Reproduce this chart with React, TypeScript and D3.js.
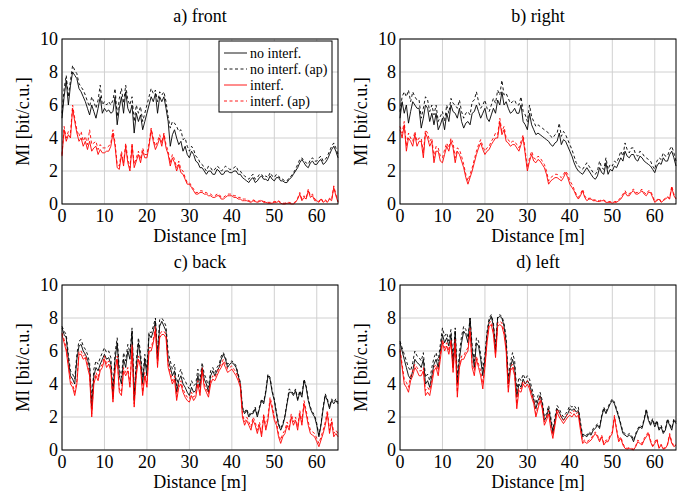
import React from 'react';
import * as d3 from 'd3';

// sampling step along the route [m]
const STEP = 0.5;
const xTicks = [0, 10, 20, 30, 40, 50, 60];
const yTicks = [0, 2, 4, 6, 8, 10];

// a) front
const frontNo = [
  5.2, 6.5, 7.5, 6.0, 7.2, 8.0, 7.8, 7.6, 7.0, 6.8,
  6.5, 6.2, 5.8, 5.4, 6.0, 5.6, 5.2, 5.8, 6.5, 5.5,
  5.8, 5.6, 5.7, 5.5, 5.6, 6.5, 4.8, 5.8, 6.5, 5.5,
  6.8, 5.8, 5.5, 6.0, 4.3, 5.5, 5.0, 5.4, 4.5, 5.0,
  5.5, 6.0, 6.5, 6.2, 6.7, 5.5, 6.5, 6.2, 6.5, 5.8,
  5.0, 3.5, 4.2, 4.5, 4.0, 3.6, 3.8, 3.2, 3.5, 3.0,
  2.8, 3.2, 3.0, 2.6, 2.5, 2.2, 2.2, 2.0, 1.8, 2.0,
  2.0, 1.8, 1.8, 2.1, 2.0, 1.8, 1.8, 2.0, 2.0, 1.9,
  1.9, 2.0, 2.0, 1.8, 1.8, 1.6, 1.5, 1.4, 1.3, 1.5,
  1.6, 1.3, 1.4, 1.6, 1.7, 1.5, 1.5, 1.4, 1.7, 1.5,
  1.4, 1.6, 1.6, 1.4, 1.4, 1.3, 1.3, 1.5, 1.6, 1.8,
  2.0, 2.2, 2.5, 2.7, 2.5, 2.3, 2.2, 2.5, 2.6, 2.4,
  2.4, 2.6, 2.7, 2.4, 2.5, 2.7, 3.0, 3.3, 3.5, 3.2,
  2.8,
];
const frontNoAp = [
  5.5, 7.0, 7.8, 6.5, 7.5, 8.4, 8.1, 7.9, 7.3, 7.1,
  6.9, 6.6, 6.2, 5.9, 6.5, 6.2, 5.8, 6.3, 7.2, 6.0,
  6.2, 6.0, 6.2, 6.0, 6.3, 7.0, 5.3, 6.4, 7.0, 6.1,
  7.2, 6.3, 6.0, 6.5, 5.0, 6.0, 5.5, 5.9, 5.0, 5.5,
  6.0, 6.5, 7.0, 6.7, 6.9, 6.2, 6.8, 6.6, 6.8, 6.2,
  5.3, 4.6, 5.0, 4.9, 4.7, 4.4, 4.5, 3.9, 4.0, 3.5,
  3.2, 3.5, 3.3, 2.9, 2.8, 2.5, 2.4, 2.2, 2.0, 2.3,
  2.2, 2.0, 2.1, 2.3, 2.2, 2.0, 2.1, 2.3, 2.2, 2.1,
  2.1, 2.2, 2.3, 2.0, 2.0, 1.8, 1.7, 1.6, 1.5, 1.7,
  1.8, 1.5, 1.6, 1.8, 1.8, 1.6, 1.7, 1.6, 1.9, 1.7,
  1.6, 1.8, 1.7, 1.5, 1.5, 1.4, 1.4, 1.6, 1.7, 1.9,
  2.1, 2.4, 2.7, 2.8, 2.6, 2.5, 2.4, 2.7, 2.8, 2.6,
  2.6, 2.8, 2.9, 2.6, 2.7, 2.9, 3.2, 3.5, 3.7, 3.4,
  3.0,
];
const frontInt = [
  2.9, 4.5, 3.8, 4.2, 4.0, 5.8, 5.0, 4.3, 3.8, 4.0,
  3.5, 3.8, 3.3, 3.8, 3.2, 3.4, 3.5, 3.0, 3.3, 3.1,
  3.1, 3.2, 3.2, 3.5, 4.3, 3.5, 2.2, 2.1, 3.0, 2.3,
  3.5, 2.5, 2.0, 3.5, 2.2, 2.6, 3.0, 2.5, 3.2, 2.8,
  2.8, 3.5, 4.5, 3.8, 3.3, 3.6, 4.0, 3.5, 4.2, 3.4,
  3.0, 2.3, 2.8, 2.5, 2.0, 2.4, 1.9, 1.8, 1.5, 1.2,
  1.2, 1.0, 0.8, 0.6, 0.6, 0.7, 0.7, 0.6, 0.6, 0.5,
  0.5, 0.4, 0.4, 0.5, 0.5, 0.3, 0.3, 0.4, 0.5, 0.5,
  0.5, 0.4, 0.4, 0.3, 0.3, 0.2, 0.2, 0.2, 0.15, 0.1,
  0.2, 0.15, 0.1, 0.15, 0.2, 0.1, 0.1, 0.05, 0.05, 0.05,
  0.1, 0.1, 0.15, 0.05, 0.0, 0.0, 0.05, 0.05, 0.0, 0.0,
  0.1, 0.3, 0.6, 0.2, 0.4, 0.3, 0.8, 0.4, 0.5, 0.2,
  0.2, 0.1, 0.3, 0.1, 0.2, 0.1, 0.3, 0.2, 1.0, 0.5,
  0.1,
];
const frontIntAp = [
  3.0, 4.7, 4.0, 4.4, 4.3, 6.0, 5.2, 4.5, 4.1, 4.4,
  3.8, 4.1, 3.6, 4.5, 3.6, 3.7, 3.8, 3.3, 3.6, 3.4,
  3.4, 3.4, 3.5, 3.7, 4.5, 3.7, 2.4, 2.3, 3.2, 2.5,
  3.7, 2.7, 2.2, 3.7, 2.4, 2.8, 3.2, 2.7, 3.4, 3.0,
  3.0, 3.7, 4.6, 4.0, 3.5, 3.8, 4.2, 3.7, 4.3, 3.6,
  3.2, 2.5, 3.0, 2.7, 2.2, 2.6, 2.1, 2.0, 1.6, 1.3,
  1.3, 1.1, 0.9, 0.7, 0.7, 0.8, 0.8, 0.7, 0.7, 0.6,
  0.6, 0.5, 0.5, 0.6, 0.6, 0.4, 0.4, 0.5, 0.6, 0.6,
  0.6, 0.5, 0.5, 0.4, 0.4, 0.3, 0.3, 0.3, 0.2, 0.15,
  0.25, 0.2, 0.15, 0.2, 0.25, 0.15, 0.15, 0.1, 0.1, 0.1,
  0.15, 0.15, 0.2, 0.1, 0.05, 0.05, 0.1, 0.1, 0.05, 0.05,
  0.15, 0.35, 0.7, 0.3, 0.5, 0.35, 0.9, 0.5, 0.6, 0.3,
  0.25, 0.15, 0.35, 0.15, 0.25, 0.15, 0.35, 0.25, 1.1, 0.6,
  0.15,
];

// b) right
const rightNo = [
  5.2, 6.2, 5.5, 6.0, 4.9, 5.6, 6.2, 6.0, 5.8, 5.8,
  4.6, 5.2, 6.0, 5.8, 5.0, 5.5, 4.8, 5.5, 4.5, 4.8,
  5.2, 4.5, 5.5, 5.0, 6.0, 5.6, 5.5, 5.2, 5.8, 5.0,
  4.6, 4.9, 5.0, 4.8, 5.5, 5.6, 6.0, 5.6, 5.2, 5.5,
  5.8, 5.2, 5.0, 5.4, 5.8, 5.5, 6.3, 6.0, 6.8, 6.0,
  6.2, 5.8, 5.5, 5.6, 5.8, 5.5, 5.5, 6.0, 5.0, 4.8,
  4.5, 5.5, 4.8, 4.5, 4.2, 4.3, 4.2, 4.1, 4.0, 3.9,
  3.8, 3.6, 3.5, 3.7, 3.8, 4.3, 3.6, 3.9, 3.8, 3.5,
  3.2, 2.9, 2.5, 2.2, 2.0, 1.9, 1.8, 2.0, 2.2, 2.0,
  1.8, 1.6, 1.5, 1.7, 2.2, 1.9, 1.8, 2.5, 1.8, 2.1,
  2.0, 2.3, 2.2, 2.5, 2.8, 2.6, 3.2, 2.9, 2.8, 3.0,
  3.0, 2.7, 2.6, 2.9, 2.8, 2.6, 2.5, 2.4, 2.3, 2.1,
  1.9, 2.3, 2.5, 2.4, 2.8, 2.6, 2.6, 3.0, 3.2, 2.8,
  2.3,
];
const rightNoAp = [
  5.6, 6.5, 6.8, 6.5, 6.9, 6.2, 6.8, 6.5, 6.3, 6.3,
  5.2, 5.8, 6.5, 6.3, 5.6, 6.0, 5.4, 6.0, 5.0, 5.3,
  5.6, 5.0, 6.0, 5.5, 6.4, 6.1, 6.0, 5.8, 6.3, 5.6,
  5.2, 5.5, 5.6, 5.4, 6.2, 6.3, 6.8, 6.2, 5.8, 6.0,
  6.3, 5.8, 5.6, 6.0, 6.4, 6.1, 6.9, 6.6, 7.5, 6.6,
  6.7, 6.4, 6.1, 6.2, 6.3, 6.0, 6.0, 6.5, 5.6, 5.4,
  5.0, 6.0, 5.3, 5.0, 4.7, 4.8, 4.7, 4.6, 4.5, 4.4,
  4.3, 4.1, 4.0, 4.2, 4.3, 4.9, 4.1, 4.4, 4.2, 3.9,
  3.6, 3.3, 2.9, 2.5, 2.3, 2.2, 2.1, 2.3, 2.5, 2.3,
  2.1, 1.9, 1.8, 2.0, 2.6, 2.2, 2.1, 2.8, 2.1, 2.4,
  2.3, 2.6, 2.5, 2.8, 3.2, 2.9, 3.7, 3.3, 3.1, 3.4,
  3.4, 3.0, 2.9, 3.2, 3.1, 2.9, 2.8, 2.7, 2.6, 2.3,
  2.1, 2.6, 2.8, 2.7, 3.1, 2.9, 2.9, 3.3, 3.5, 3.1,
  2.6,
];
const rightInt = [
  4.5, 4.0, 4.8, 3.2, 4.0, 3.8, 3.5, 4.2, 3.5, 3.8,
  3.8, 2.8, 4.3, 4.0, 3.5, 3.8, 2.5, 3.2, 3.2, 2.6,
  2.5, 3.0, 3.5, 3.2, 3.8, 3.4, 2.5, 3.2, 3.0, 2.6,
  2.2, 1.6, 1.2, 1.6, 2.0, 2.5, 3.0, 3.4, 3.7, 3.3,
  3.0, 3.2, 3.3, 3.6, 3.8, 4.0, 4.0, 5.0, 4.2, 4.5,
  3.8, 3.7, 3.5, 3.6, 3.6, 3.4, 3.2, 3.6, 4.0, 3.0,
  2.0, 2.6, 3.0, 2.6, 2.5, 2.7, 2.6, 2.4, 2.2, 1.8,
  1.2, 1.4, 1.5, 1.6, 1.6, 1.5, 1.4, 1.6, 1.9, 1.6,
  1.2, 1.0, 0.8, 0.5, 0.3, 0.5, 0.8, 0.4, 0.2, 0.3,
  0.3, 0.2, 0.2, 0.15, 0.15, 0.2, 0.2, 0.1, 0.1, 0.1,
  0.05, 0.1, 0.1, 0.2, 0.3, 0.5, 0.7, 0.5, 0.5, 0.7,
  0.8, 0.6, 0.6, 0.7, 0.8, 0.6, 0.5, 0.7, 0.7, 0.4,
  0.1, 0.2, 0.3, 0.1, 0.2, 0.3, 0.4, 0.3, 1.0, 0.5,
  0.3,
];
const rightIntAp = [
  4.7, 4.3, 5.0, 3.5, 4.3, 4.0, 3.8, 4.4, 3.8, 4.0,
  4.0, 3.1, 4.5, 4.3, 3.8, 4.0, 2.8, 3.5, 3.4, 2.9,
  2.8, 3.3, 3.7, 3.4, 4.0, 3.7, 2.8, 3.4, 3.3, 2.9,
  2.4, 1.8, 1.4, 1.8, 2.2, 2.7, 3.2, 3.6, 3.9, 3.5,
  3.2, 3.4, 3.5, 3.8, 4.0, 4.3, 4.2, 5.2, 4.4, 4.7,
  4.0, 3.9, 3.7, 3.8, 3.8, 3.6, 3.4, 3.8, 4.2, 3.2,
  2.2, 2.8, 3.2, 2.8, 2.7, 2.9, 2.8, 2.6, 2.4, 2.0,
  1.4, 1.6, 1.7, 1.8, 1.8, 1.7, 1.6, 1.8, 2.0, 1.8,
  1.4, 1.2, 0.9, 0.6, 0.4, 0.6, 0.9, 0.5, 0.3, 0.35,
  0.35, 0.25, 0.25, 0.2, 0.2, 0.25, 0.25, 0.15, 0.15, 0.15,
  0.1, 0.15, 0.15, 0.25, 0.4, 0.6, 0.8, 0.6, 0.6, 0.8,
  0.9, 0.7, 0.7, 0.8, 0.9, 0.7, 0.6, 0.8, 0.8, 0.5,
  0.15, 0.25, 0.35, 0.15, 0.25, 0.35, 0.45, 0.35, 1.1, 0.6,
  0.35,
];

// c) back
const backNo = [
  7.4, 7.0, 6.8, 5.5, 4.5, 4.3, 4.0, 5.5, 6.3, 6.4,
  6.0, 5.8, 5.5, 5.0, 2.5, 4.5, 5.0, 4.8, 5.2, 5.5,
  5.8, 5.5, 5.6, 5.2, 3.2, 5.5, 6.5, 4.5, 4.0, 5.5,
  5.0, 6.0, 5.5, 7.2, 3.0, 5.0, 6.5, 5.5, 4.0, 5.5,
  4.5, 7.0, 6.8, 7.2, 7.8, 5.5, 7.5, 7.8, 7.5, 7.2,
  5.5, 5.0, 4.5, 4.8, 3.5, 4.2, 4.5, 4.0, 3.8, 3.5,
  3.3, 3.8, 3.5, 3.6, 4.5, 3.8, 5.0, 4.3, 4.0, 3.5,
  4.5, 4.8, 4.5, 4.8, 5.0, 5.5, 5.8, 5.5, 5.0, 5.2,
  5.3, 5.2, 5.0, 4.5, 4.0, 2.5, 2.2, 2.4, 2.0, 2.2,
  2.2, 2.5, 2.0, 2.5, 3.0, 2.8, 3.5, 4.5, 4.3, 3.5,
  3.0, 2.2, 1.5, 1.2, 1.5, 2.0, 2.8, 3.5, 3.5, 3.3,
  3.6, 3.0, 3.5, 3.2, 4.2, 3.8, 3.0, 2.5, 2.2, 2.0,
  1.5, 0.8, 1.5, 2.5, 3.3, 3.0, 2.5, 3.0, 2.8, 3.0,
  2.8,
];
const backNoAp = [
  7.5, 7.2, 7.0, 5.8, 4.8, 4.6, 4.3, 5.8, 6.6, 6.7,
  6.3, 6.1, 5.8, 5.3, 2.9, 4.9, 5.4, 5.2, 5.6, 5.9,
  6.2, 5.9, 6.0, 5.6, 3.6, 5.9, 6.8, 4.9, 4.4, 5.9,
  5.4, 6.4, 5.9, 7.4, 3.4, 5.4, 6.8, 5.9, 4.4, 5.8,
  4.9, 7.2, 7.1, 7.5, 8.0, 5.9, 7.9, 8.0, 7.8, 7.5,
  5.9, 5.4, 4.9, 5.2, 3.9, 4.6, 4.9, 4.4, 4.2, 3.9,
  3.7, 4.2, 3.9, 4.0, 4.9, 4.2, 5.3, 4.6, 4.3, 3.8,
  4.8, 5.0, 4.7, 5.0, 5.2, 5.7, 5.9, 5.6, 5.2, 5.3,
  5.4, 5.3, 5.1, 4.6, 4.1, 2.6, 2.3, 2.5, 2.1, 2.3,
  2.3, 2.6, 2.1, 2.6, 3.1, 2.9, 3.6, 4.6, 4.4, 3.6,
  3.1, 2.3, 1.6, 1.3, 1.6, 2.1, 2.9, 3.7, 3.6, 3.4,
  3.7, 3.1, 3.6, 3.3, 4.3, 3.9, 3.1, 2.6, 2.3, 2.1,
  1.6, 0.9, 1.6, 2.6, 3.4, 3.1, 2.6, 3.1, 2.9, 3.1,
  2.9,
];
const backInt = [
  7.0, 6.5, 6.0, 5.0, 4.0, 3.8, 3.3, 4.0, 5.8, 5.8,
  5.5, 5.6, 5.0, 4.5, 2.0, 4.0, 4.5, 4.2, 4.8, 5.0,
  5.5, 5.0, 5.2, 4.8, 2.9, 4.8, 5.5, 3.5, 3.3, 4.8,
  4.5, 4.8, 3.8, 6.2, 2.6, 4.5, 5.5, 5.0, 3.3, 4.5,
  3.8, 6.0, 6.0, 6.5, 7.3, 5.0, 6.8, 7.0, 7.0, 6.8,
  5.0, 4.5, 4.0, 4.3, 3.0, 3.8, 4.0, 3.5, 3.2, 3.0,
  2.9, 3.3, 3.0, 3.2, 4.0, 3.3, 4.8, 3.8, 3.5, 3.2,
  4.0, 4.3, 4.2, 4.5, 4.8, 5.0, 5.3, 5.0, 4.7, 4.8,
  4.9, 4.7, 4.5, 4.2, 3.8, 2.0, 1.5, 1.8, 1.5, 1.2,
  1.8, 1.5, 1.0, 1.5, 0.8, 2.0, 1.2, 1.8, 3.0, 2.5,
  1.8, 1.5, 0.8, 0.4, 0.8, 1.0, 1.5, 1.2, 2.0, 1.5,
  1.8, 1.2, 2.2, 1.5, 2.8, 2.2, 1.5, 1.0, 0.9, 0.8,
  0.5, 0.2, 0.6, 1.0, 1.5, 2.2, 1.0, 1.7, 0.8, 1.0,
  0.8,
];
const backIntAp = [
  7.1, 6.7, 6.2, 5.2, 4.2, 4.0, 3.5, 4.2, 6.0, 6.0,
  5.7, 5.8, 5.2, 4.7, 2.2, 4.2, 4.7, 4.4, 5.0, 5.2,
  5.7, 5.2, 5.4, 5.0, 3.1, 5.0, 5.7, 3.7, 3.5, 5.0,
  4.7, 5.0, 4.0, 6.4, 2.8, 4.7, 5.7, 5.2, 3.5, 4.7,
  4.0, 6.2, 6.2, 6.7, 7.5, 5.2, 7.0, 7.2, 7.2, 7.0,
  5.2, 4.7, 4.2, 4.5, 3.2, 4.0, 4.2, 3.7, 3.4, 3.2,
  3.1, 3.5, 3.2, 3.4, 4.2, 3.5, 5.0, 4.0, 3.7, 3.4,
  4.2, 4.5, 4.4, 4.7, 5.0, 5.2, 5.5, 5.2, 4.9, 5.0,
  5.1, 4.9, 4.7, 4.4, 4.0, 2.2, 1.7, 2.0, 1.7, 1.4,
  2.0, 1.7, 1.2, 1.7, 1.0, 2.2, 1.4, 2.0, 3.2, 2.7,
  2.0, 1.7, 1.0, 0.6, 1.0, 1.2, 1.7, 1.4, 2.2, 1.7,
  2.0, 1.4, 2.4, 1.7, 3.0, 2.4, 1.7, 1.2, 1.1, 1.0,
  0.7, 0.4, 0.8, 1.2, 1.7, 2.4, 1.2, 1.9, 1.0, 1.2,
  1.0,
];

// d) left
const leftNo = [
  6.5, 6.0, 5.5, 5.0, 4.5, 4.3, 4.8, 5.5, 5.3, 5.2,
  5.0, 5.5, 4.0, 4.2, 3.8, 4.5, 5.2, 5.5, 5.0, 6.0,
  7.0, 6.5, 6.8, 6.3, 7.0, 5.0, 7.2, 4.0, 5.5, 6.5,
  7.2, 7.0, 6.5, 8.0, 6.0, 5.0, 6.5, 6.3, 5.5, 4.5,
  5.5, 7.0, 7.8, 8.1, 7.5, 6.0, 8.0, 8.1, 8.0, 7.5,
  6.5, 4.0, 5.0, 5.5, 5.0, 3.2, 4.0, 3.8, 4.3, 4.0,
  4.2, 4.0, 3.5, 3.0, 2.5, 3.0, 3.3, 2.8, 1.8, 2.0,
  2.5, 1.8, 1.0, 1.8, 2.5, 2.3, 2.0, 1.8, 2.0, 2.2,
  2.5, 2.4, 2.5, 2.3, 2.4, 1.5, 0.8, 0.9, 0.8, 1.0,
  0.9, 1.2, 1.3, 1.5, 1.3, 2.0, 2.5, 2.2, 2.5, 2.8,
  3.0, 2.8, 2.4, 2.0, 1.5, 1.0, 0.9, 0.8, 0.9, 0.8,
  0.5, 0.9, 1.2, 1.4, 1.3, 1.8, 2.4, 1.8, 1.5, 1.8,
  1.4, 1.7, 1.2, 1.4, 1.0, 1.2, 1.8, 1.5, 1.2, 1.8,
  1.6,
];
const leftNoAp = [
  6.6, 6.2, 5.8, 5.4, 5.0, 4.8, 5.3, 6.0, 5.7, 5.6,
  5.4, 5.9, 4.4, 4.6, 4.2, 5.0, 5.6, 5.9, 5.4, 6.4,
  7.4, 6.9, 7.1, 6.6, 7.3, 5.4, 7.4, 4.4, 5.9, 6.9,
  7.5, 7.3, 6.8, 8.0, 6.3, 5.4, 6.8, 6.6, 5.8, 4.9,
  5.8, 7.2, 8.0, 8.2, 7.7, 6.3, 8.1, 8.2, 8.1, 7.7,
  6.8, 4.4, 5.3, 5.9, 5.4, 3.6, 4.4, 4.2, 4.6, 4.3,
  4.5, 4.3, 3.8, 3.3, 2.8, 3.3, 3.5, 3.0, 2.0, 2.2,
  2.7, 2.0, 1.2, 2.0, 2.7, 2.5, 2.2, 2.0, 2.2, 2.4,
  2.7, 2.6, 2.7, 2.5, 2.6, 1.7, 0.9, 1.0, 0.9, 1.1,
  1.0, 1.3, 1.4, 1.6, 1.4, 2.1, 2.6, 2.3, 2.6, 2.9,
  3.1, 2.9, 2.5, 2.1, 1.6, 1.1, 1.0, 0.9, 1.0, 0.9,
  0.6, 1.0, 1.3, 1.5, 1.4, 1.9, 2.5, 1.9, 1.6, 1.9,
  1.5, 1.8, 1.3, 1.5, 1.1, 1.3, 1.9, 1.6, 1.3, 1.9,
  1.7,
];
const leftInt = [
  6.0, 5.0, 4.0, 3.8, 3.5, 4.2, 4.5, 5.0, 4.8, 4.5,
  4.5, 4.8, 3.3, 3.5, 3.3, 4.0, 4.8, 5.0, 4.5, 5.5,
  6.5, 6.0, 6.3, 5.8, 6.5, 4.7, 6.5, 3.2, 5.0, 5.5,
  5.5, 5.8, 6.0, 7.2, 5.0, 4.5, 5.5, 5.0, 4.5, 3.7,
  5.0, 6.5, 7.5, 7.6, 7.0, 5.6, 7.5, 7.6, 7.5, 7.0,
  6.0, 3.5, 4.8, 5.0, 4.5, 2.5, 3.6, 3.5, 4.0, 3.8,
  4.0, 3.7, 3.2, 2.8, 2.0, 2.5, 3.0, 2.5, 1.5, 1.8,
  2.2, 1.3, 0.7, 1.5, 2.3, 2.0, 1.8, 1.6, 1.8, 2.0,
  2.1, 2.0, 2.2, 2.0, 2.1, 1.2, 0.4, 0.5, 0.4, 0.5,
  0.6, 0.8, 1.0, 0.8, 0.5, 0.8, 0.3, 0.5, 0.5, 0.8,
  1.0, 2.0, 1.2, 0.5, 0.7, 0.3, 0.1, 0.05, 0.1, 0.05,
  0.0, 0.2, 0.5, 0.4, 0.3, 0.6, 0.8, 1.0, 0.5, 0.2,
  0.4, 0.6, 0.1, 0.3, 0.05, 0.1, 0.3, 0.9, 0.4, 0.2,
  0.3,
];
const leftIntAp = [
  6.1, 5.2, 4.3, 4.1, 3.8, 4.5, 4.8, 5.2, 5.0, 4.8,
  4.8, 5.0, 3.6, 3.8, 3.6, 4.3, 5.0, 5.2, 4.8, 5.8,
  6.7, 6.2, 6.5, 6.0, 6.7, 5.0, 6.7, 3.5, 5.2, 5.7,
  5.7, 6.0, 6.2, 7.4, 5.2, 4.8, 5.7, 5.2, 4.8, 4.0,
  5.2, 6.7, 7.7, 7.8, 7.2, 5.8, 7.7, 7.8, 7.7, 7.2,
  6.2, 3.8, 5.0, 5.2, 4.7, 2.8, 3.8, 3.7, 4.2, 4.0,
  4.2, 3.9, 3.4, 3.0, 2.2, 2.7, 3.2, 2.7, 1.7, 2.0,
  2.4, 1.5, 0.9, 1.7, 2.5, 2.2, 2.0, 1.8, 2.0, 2.2,
  2.3, 2.2, 2.4, 2.2, 2.3, 1.4, 0.5, 0.6, 0.5, 0.6,
  0.7, 0.9, 1.1, 0.9, 0.6, 0.9, 0.4, 0.6, 0.6, 0.9,
  1.1, 2.1, 1.3, 0.6, 0.8, 0.4, 0.15, 0.1, 0.15, 0.1,
  0.05, 0.25, 0.6, 0.5, 0.4, 0.7, 0.9, 1.1, 0.6, 0.25,
  0.5, 0.7, 0.15, 0.35, 0.1, 0.15, 0.35, 1.0, 0.5, 0.25,
  0.35,
];

const seriesStyles = [
  { label: 'no interf.', color: '#000000', dash: undefined },
  { label: 'no interf. (ap)', color: '#000000', dash: '3,2.5' },
  { label: 'interf.', color: '#ff0000', dash: undefined },
  { label: 'interf. (ap)', color: '#ff0000', dash: '3,2.5' },
];

const panels = [
  { title: 'a) front', left: 62, top: 39, data: [frontNo, frontNoAp, frontInt, frontIntAp], legend: true },
  { title: 'b) right', left: 400, top: 39, data: [rightNo, rightNoAp, rightInt, rightIntAp], legend: false },
  { title: 'c) back', left: 62, top: 285, data: [backNo, backNoAp, backInt, backIntAp], legend: false },
  { title: 'd) left', left: 400, top: 285, data: [leftNo, leftNoAp, leftInt, leftIntAp], legend: false },
];

const W = 276;
const H = 165;
const serif = { fontFamily: "'Liberation Serif', 'DejaVu Serif', serif" };

function Panel({ title, left, top, data, legend }) {
  const x = d3.scaleLinear().domain([0, 65]).range([0, W]);
  const y = d3.scaleLinear().domain([0, 10]).range([H, 0]);
  const line = d3.line<number>()
    .x((_, i) => x(i * STEP))
    .y(d => y(d));

  return (
    <g transform={`translate(${left},${top})`}>
      <text x={W / 2} y={-17} textAnchor="middle" fontSize={18} style={serif}>{title}</text>
      {xTicks.map(t => (
        <line key={'gx' + t} x1={x(t)} x2={x(t)} y1={0} y2={H} stroke="#d0d0d0" strokeWidth={1} />
      ))}
      {yTicks.map(t => (
        <line key={'gy' + t} x1={0} x2={W} y1={y(t)} y2={y(t)} stroke="#d0d0d0" strokeWidth={1} />
      ))}
      {data.map((values, i) => (
        <path key={i} d={line(values) ?? ''} fill="none"
          stroke={seriesStyles[i].color} strokeWidth={0.9}
          strokeDasharray={seriesStyles[i].dash} strokeLinejoin="round" />
      ))}
      <rect x={0} y={0} width={W} height={H} fill="none" stroke="#000" strokeWidth={1} />
      {xTicks.map(t => (
        <text key={'tx' + t} x={x(t)} y={H + 18} textAnchor="middle" fontSize={18} style={serif}>{t}</text>
      ))}
      {yTicks.map(t => (
        <text key={'ty' + t} x={-4} y={y(t)} dy="0.33em" textAnchor="end" fontSize={18} style={serif}>{t}</text>
      ))}
      <text x={W / 2} y={H + 38} textAnchor="middle" fontSize={18} style={serif}>Distance [m]</text>
      <text transform={`translate(${-33},${H / 2}) rotate(-90)`} textAnchor="middle" fontSize={18} style={serif}>MI [bit/c.u.]</text>
      {legend && (
        <g transform={`translate(${W - 119},2)`}>
          <rect x={0} y={0} width={113} height={71} fill="#fff" stroke="#000" strokeWidth={1} />
          {seriesStyles.map((s, i) => (
            <g key={s.label} transform={`translate(0,${12 + i * 16})`}>
              <line x1={5} x2={28} y1={0} y2={0} stroke={s.color} strokeWidth={0.9} strokeDasharray={s.dash} />
              <text x={31} y={0} dy="0.33em" fontSize={14} style={serif}>{s.label}</text>
            </g>
          ))}
        </g>
      )}
    </g>
  );
}

export default function App() {
  return (
    <svg width={692} height={498} style={{ position: 'absolute', left: 0, top: 0, background: '#fff' }}>
      {panels.map(p => <Panel key={p.title} {...p} />)}
    </svg>
  );
}
